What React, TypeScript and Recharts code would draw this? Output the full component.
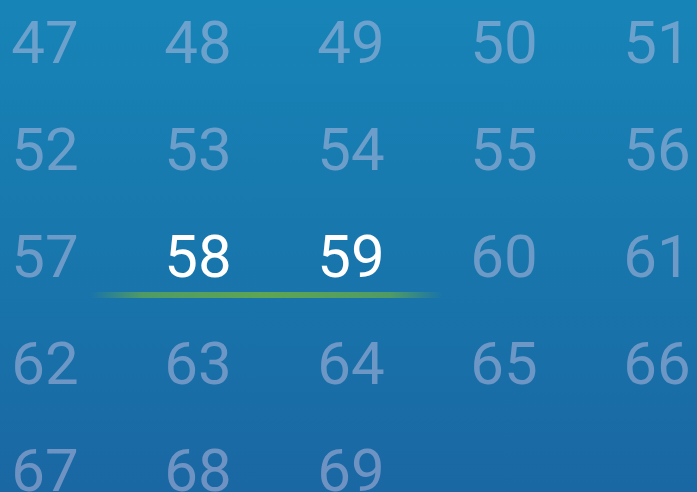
import React from "react";
import { ScatterChart, Scatter, XAxis, YAxis, ReferenceArea } from "recharts";

const gridRows: number[][] = [
  [47, 48, 49, 50, 51],
  [52, 53, 54, 55, 56],
  [57, 58, 59, 60, 61],
  [62, 63, 64, 65, 66],
  [67, 68, 69],
];
const highlighted: number[] = [58, 59];
const underlineRow = 2;
const underlineCols: [number, number] = [1, 2];

const W = 697;
const H = 492;

type Cell = { col: number; row: number; label: number; active: boolean };
const cells: Cell[] = [];
gridRows.forEach((r, ri) =>
  r.forEach((v, ci) => cells.push({ col: ci, row: ri, label: v, active: highlighted.includes(v) }))
);

const NumberShape = (props: any) => {
  const { cx, cy, payload } = props;
  return (
    <text
      x={cx}
      y={cy + 21}
      textAnchor="middle"
      fontFamily="Roboto, 'DejaVu Sans', sans-serif"
      fontSize={60}
      fontWeight={400}
      fill={payload.active ? "#ffffff" : "rgba(212,200,232,0.45)"}
    >
      {payload.label}
    </text>
  );
};

export default function App() {
  return (
    <div
      style={{
        position: "fixed",
        left: 0,
        top: 0,
        width: W,
        height: H,
        overflow: "hidden",
        background: "linear-gradient(180deg, #1784b7 0%, #1877ad 50%, #1a67a3 100%)",
      }}
    >
      <ScatterChart width={W} height={H} margin={{ top: 0, right: 0, bottom: 0, left: 0 }}>
        <defs>
          <linearGradient id="uline" x1="0" y1="0" x2="1" y2="0">
            <stop offset="0%" stopColor="#62a84e" stopOpacity={0} />
            <stop offset="15%" stopColor="#62a84e" stopOpacity={0.75} />
            <stop offset="50%" stopColor="#62a84e" stopOpacity={0.95} />
            <stop offset="85%" stopColor="#62a84e" stopOpacity={0.75} />
            <stop offset="100%" stopColor="#62a84e" stopOpacity={0} />
          </linearGradient>
        </defs>
        <XAxis type="number" dataKey="col" domain={[-0.294, 4.261]} hide allowDataOverflow />
        <YAxis type="number" dataKey="row" domain={[-0.388, 4.21]} reversed hide allowDataOverflow />
        <ReferenceArea
          x1={underlineCols[0] - 0.706}
          x2={underlineCols[1] + 0.601}
          y1={underlineRow + 0.34}
          y2={underlineRow + 0.397}
          fill="url(#uline)"
          fillOpacity={1}
          stroke="none"
          ifOverflow="visible"
        />
        <Scatter data={cells} shape={<NumberShape />} isAnimationActive={false} />
      </ScatterChart>
    </div>
  );
}
